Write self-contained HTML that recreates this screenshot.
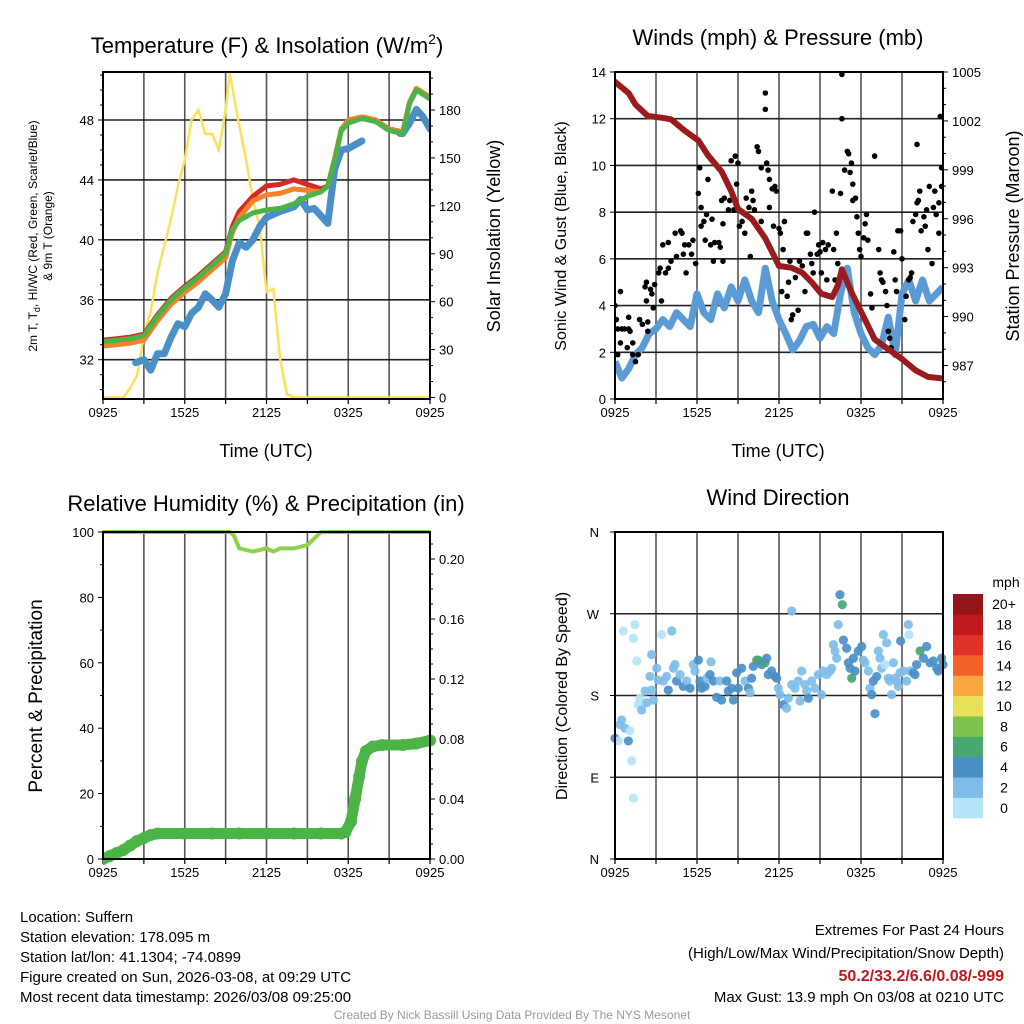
<!DOCTYPE html>
<html><head><meta charset="utf-8"><style>
body{margin:0;background:#fff;}
svg{display:block;font-family:"Liberation Sans",sans-serif;}
</style></head><body>
<svg id="c" width="1024" height="1024" viewBox="0 0 1024 1024"></svg>
<script>
// ---------- DATA ----------
const xTickLabels=["0925","1525","2125","0325","0925"];
// Panel 1: temperature (hours since 0925)
const tT=[0,1,2,3,4,5,6,7,8,9,9.5,10,11,12,13,14,15,16,16.5,17,17.5,18,19,20,21,22,22.5,23,24];
const greenT=[33.2,33.3,33.4,33.6,34.9,36.0,36.8,37.5,38.3,39.1,40.7,41.3,41.8,42.0,42.1,42.4,42.9,43.2,43.6,45.3,47.3,47.8,48.1,47.9,47.3,47.1,49.1,50.0,49.4];
const redT=[33.3,33.4,33.5,33.7,35.0,36.1,36.9,37.6,38.4,39.2,40.9,41.9,42.9,43.6,43.7,44.0,43.7,43.4,43.6,45.4,47.4,47.9,48.2,48.0,47.4,47.2,49.2,50.1,49.5];
const orangeT=[32.9,33.0,33.1,33.3,34.6,35.7,36.5,37.2,38.0,38.8,40.5,41.5,42.6,43.0,43.1,43.4,43.3,43.2,43.6,45.4,47.4,48.0,48.2,48.0,47.4,47.2,49.2,50.1,49.5];
const tB=[2.4,3,3.5,4,4.5,5,5.5,6,6.5,7,7.5,8,8.5,9,9.5,10,10.5,11,11.5,12,13,14,14.5,15,15.5,16.5,17,17.5,18,19,19.4,21.8,22,22.5,23,23.5,24];
const blueT=[31.8,32.0,31.3,32.4,32.4,33.5,34.4,34.2,35.1,35.5,36.4,36.0,35.5,36.4,38.6,39.8,39.5,40.0,40.9,41.5,41.9,42.2,42.7,42.0,42.1,41.1,44.7,46.0,46.1,46.6,null,47.1,47.1,47.8,48.7,48.2,47.4];
const tS=[0,1.5,2,2.5,3,3.5,4,4.5,5,5.5,6,6.5,7,7.5,8,8.5,9,9.3,10,10.5,11,11.5,12,12.5,13,13.5,14,24];
const solar=[0,0,6,14,39,54,78,95,112,132,149,174,180,165,165,155,180,203,170,149,124,107,66,68,24,2,0,0];
// Panel 2: winds & pressure
const tW=[0,0.5,1,1.5,2,2.5,3,3.5,4,4.5,5,5.5,6,6.5,7,7.5,8,8.5,9,9.5,10,10.5,11,11.5,12,12.5,13,13.5,14,14.5,15,15.5,16,16.5,17,17.5,18,18.5,19,19.5,20,20.5,21,21.5,22,22.5,23,23.5,24];
const sonic=[1.6,0.9,1.3,1.9,2.2,2.8,3.0,3.4,3.1,3.7,3.4,3.1,4.5,3.7,3.4,4.5,3.9,4.8,4.2,5.1,4.2,3.7,5.6,4.2,3.4,2.8,2.1,2.5,3.1,3.2,2.6,3.1,2.8,4.5,5.6,3.7,2.8,2.2,1.9,2.3,3.5,1.9,4.5,5.1,4.2,5.1,4.2,4.5,4.8];
const tP=[0,1,1.5,2.4,3.4,4.1,5.1,6.1,6.8,7.8,8.5,9,10,11,12,12.9,13.7,14.4,15.1,15.9,16.3,16.6,17.3,18.3,19,20,21,22,22.9,24];
const pressure=[1004.4,1003.7,1003.0,1002.3,1002.2,1002.1,1001.4,1000.8,999.9,998.9,997.7,996.6,996.0,994.8,993.1,993.0,992.7,992.1,991.4,991.2,991.9,992.9,991.5,989.8,988.6,988.0,987.4,986.7,986.3,986.2];
const gustT=[0,0.1,0.2,0.4,0.2,0.5,0.7,1.0,0.4,1.0,0.9,1.1,1.3,1.3,1.5,1.7,1.8,2.0,2.2,2.3,2.3,2.6,2.7,2.8,2.4,2.4,2.9,3.2,3.3,3.4,3.5,3.9,3.7,3.9,4.1,4.4,4.5,4.8,4.9,5.1,5.0,5.2,5.4,5.6,5.7,5.9,6.1,6.2,6.3,6.5,6.3,6.6,6.7,6.8,7.0,7.1,7.2,7.3,7.6,7.7,7.8,7.9,8.0,7.9,8.3,8.4,8.5,8.8,8.9,8.7,9.0,9.1,9.3,9.5,9.6,9.8,10.0,10.1,10.2,9.9,10.4,10.5,10.7,10.7,11.0,11.0,11.1,11.2,11.3,11.3,11.5,11.6,11.7,11.8,12.0,12.1,12.2,12.3,12.4,12.7,12.8,12.6,12.9,13.0,13.2,13.4,13.5,13.7,13.9,14.0,14.1,14.3,14.4,14.5,14.6,14.8,14.9,15.0,15.1,15.2,15.4,15.5,15.6,15.9,16.0,16.1,16.2,16.3,16.5,16.6,16.6,16.8,17.0,17.1,17.2,17.3,17.4,17.4,17.6,17.7,17.8,17.9,18.0,18.2,18.3,18.4,18.5,18.7,18.8,19.0,19.3,19.4,19.5,19.6,19.8,19.9,20.0,20.1,20.2,20.4,20.5,20.6,20.7,20.9,21.0,21.2,21.3,21.5,21.6,21.7,21.8,22.0,22.1,22.1,22.2,22.3,22.4,22.6,22.7,22.8,22.9,23.0,23.2,23.3,23.4,23.5,23.7,23.7,23.8,23.9,23.9];
const gustV=[4.0,3.4,3.0,2.4,1.9,3.0,3.0,3.0,4.6,3.5,2.2,2.9,2.4,1.9,1.6,1.9,3.4,3.2,4.8,5.0,4.2,4.7,4.5,3.9,2.9,3.3,4.9,5.4,5.6,4.2,6.6,6.7,5.4,5.6,5.9,7.1,6.1,7.2,7.1,6.6,6.2,5.4,6.6,6.2,6.8,5.8,8.8,9.9,8.2,7.6,7.4,6.8,7.9,9.4,6.6,7.7,5.9,6.7,6.7,6.5,8.5,7.5,8.6,5.9,8.1,8.5,10.2,10.4,9.2,8.1,10.1,7.4,7.6,7.1,8.6,8.2,8.9,8.5,8.1,6.1,10.8,10.6,9.9,7.6,12.4,13.1,10.1,9.8,8.2,9.4,9.0,7.4,9.1,8.9,7.3,7.1,4.6,6.4,7.6,5.0,5.9,4.4,3.4,3.6,5.2,3.8,5.9,5.7,4.6,7.1,7.1,6.2,5.8,5.4,8.0,6.2,6.6,6.3,5.4,6.7,6.4,5.1,6.6,8.9,6.4,5.1,7.1,5.8,8.8,12.0,13.9,9.8,10.6,10.5,9.7,10.1,9.2,8.5,8.6,7.8,7.1,6.4,6.1,6.9,7.5,7.9,6.8,4.5,3.9,10.4,6.4,5.4,5.1,5.0,4.6,4.0,2.9,2.6,2.2,6.3,5.1,4.6,7.2,7.2,6.0,3.4,4.4,5.1,5.2,5.4,7.6,7.9,10.9,8.4,8.5,8.9,7.2,7.8,7.4,8.1,6.4,9.1,5.8,8.2,8.9,7.9,7.1,8.4,12.1,9.9,9.1];
// Panel 3: RH & precip
const tRH=[0,9.3,9.6,10,11,12,12.5,13,14,15,15.5,16,24];
const rh=[100,100,99,95,94,95,94,95,95,96,98,100,100];
const tPr=[0,0.5,1,1.5,2,2.5,3,3.5,4,6,8,10,12,14,16,17.5,17.8,18.2,18.5,18.8,19,19.3,19.8,20.5,22,23,24];
const precip=[0,0.002,0.004,0.006,0.009,0.012,0.014,0.016,0.017,0.017,0.017,0.017,0.017,0.017,0.017,0.017,0.018,0.025,0.04,0.055,0.065,0.072,0.075,0.076,0.076,0.077,0.079];
// Panel 4: wind direction (deg) colored by speed bin
const dirT=[0,0.24,0.37,0.49,0.73,0.98,1.1,1.22,1.34,1.46,0.61,1.34,1.59,1.71,1.95,1.83,2.2,2.32,2.68,2.8,2.68,2.56,3.05,3.17,3.41,3.54,3.78,3.9,4.15,4.27,4.39,4.51,4.76,5.0,5.24,5.49,5.73,5.85,6.1,6.22,6.34,6.59,6.71,6.95,7.02,7.2,7.44,7.68,7.8,8.17,8.29,8.54,8.66,8.9,9.02,9.27,9.51,9.76,9.88,10.0,10.12,10.37,10.49,10.73,10.98,11.1,11.22,11.46,11.71,11.83,11.95,12.07,12.32,12.56,12.68,12.93,12.93,13.17,13.41,13.54,13.66,13.9,14.02,14.15,14.39,14.63,14.88,15.12,15.24,15.49,15.73,15.85,15.98,16.1,16.22,16.34,16.46,16.63,16.71,16.95,17.07,17.2,17.32,17.44,17.56,17.8,18.05,18.17,18.29,18.54,18.66,18.78,18.9,19.02,19.15,19.27,19.39,19.51,19.63,19.76,19.88,20.0,20.12,20.24,20.37,20.49,20.61,20.73,20.85,20.9,21.1,21.34,21.46,21.51,21.59,21.83,21.95,22.07,22.32,22.56,22.8,23.05,23.29,23.54,23.66,23.9,24.0];
const dirDeg=[133,130,148,153,144,130,141,108,67,258,251,243,218,170,164,177,185,172,186,175,225,201,210,197,247,196,201,186,251,210,214,196,203,190,196,188,214,207,219,196,188,190,199,203,217,196,178,196,175,196,185,188,175,205,188,210,196,188,183,199,212,219,219,214,216,221,203,207,201,199,188,181,170,166,177,273,192,188,196,174,207,192,185,177,196,188,203,181,207,203,207,210,236,229,221,258,291,280,241,232,216,210,199,221,207,229,234,219,216,207,188,181,196,160,201,229,221,210,247,214,238,199,196,181,216,199,196,190,205,240,207,196,258,247,207,205,203,214,229,221,234,216,218,210,207,221,214];
const dirBin=[2,0,1,1,1,2,0,0,0,0,0,0,0,0,1,0,1,1,1,1,1,1,1,1,0,1,1,2,1,1,1,2,1,2,1,2,1,1,2,2,2,2,1,2,1,2,2,1,2,2,2,2,2,2,2,2,1,2,1,2,2,3,3,2,3,2,2,2,2,2,1,1,2,1,1,1,1,1,1,1,1,1,1,2,1,1,1,1,1,1,1,1,1,1,1,1,2,3,2,2,2,2,3,2,2,2,2,1,1,1,1,2,2,2,2,1,1,1,1,0,1,1,1,1,1,1,1,1,1,2,1,1,1,0,1,2,2,2,3,2,2,2,2,2,2,2,2,2,2];
const binColors=["#b5e3f7","#7fbde8","#4a8fc6","#48a870","#7ec24d","#e6e157","#f9a743","#f26329","#e0322a","#c1191f","#941519"];
const binLabels=["0","2","4","6","8","10","12","14","16","18","20+"];
const tempTicks=[32,36,40,44,48];
const solarTicks=[0,30,60,90,120,150,180];
const windTicks=[0,2,4,6,8,10,12,14];
const presTicks=[987,990,993,996,999,1002,1005];
const rhTicks=[0,20,40,60,80,100];
const prTicks=[0,0.04,0.08,0.12,0.16,0.20];
const dirTicks=[0,90,180,270,360];
const dirLabels=["N","E","S","W","N"];

// ---------- HELPERS ----------
const NS="http://www.w3.org/2000/svg";
const svg=document.getElementById('c');
function mk(tag,attrs,parent){const e=document.createElementNS(NS,tag);for(const k in attrs)e.setAttribute(k,attrs[k]);(parent||svg).appendChild(e);return e;}
function txt(s,x,y,size,anchor,parent,extra){const e=mk('text',Object.assign({x:x,y:y,'font-size':size,'text-anchor':anchor||'middle',fill:'#000'},extra||{}),parent);e.textContent=s;return e;}
function lin(d0,d1,p0,p1){return v=>p0+(v-d0)*(p1-p0)/(d1-d0);}
function pathOf(ts,vs,X,Y){let d='',pen=false;for(let i=0;i<ts.length;i++){if(vs[i]===null){pen=false;continue;}d+=(pen?'L':'M')+X(ts[i]).toFixed(1)+','+Y(vs[i]).toFixed(1);pen=true;}return d;}

function panelFrame(g,L,T,R,B,X){
  for(let h=3;h<24;h+=3){const l=mk('line',{x1:X(h),x2:X(h),y1:T,y2:B,stroke:'#555','stroke-width':1.6},g);
    
    }
  for(let h=0;h<=24;h+=3){mk('line',{x1:X(h),x2:X(h),y1:B,y2:B+5,stroke:'#000','stroke-width':1.2},g);}
  xTickLabels.forEach((s,i)=>{const t=txt(s,X(i*6),B+18,13,'middle',g);
    
    });
}
function frameRect(g,L,T,R,B){const r=mk('rect',{x:L,y:T,width:R-L,height:B-T,fill:'none',stroke:'#000','stroke-width':2},g);
  
  }
function hGrid(g,L,R,ys){ys.forEach(y=>{const l=mk('line',{x1:L,x2:R,y1:y,y2:y,stroke:'#222','stroke-width':1.6},g);
  
  });}

// ---------- PANEL 1 ----------
(function(){
  const L=103,R=430,T=72,B=399;
  const g=mk('g',{});
  
  
  const X=lin(0,24,L,R),Y=lin(32,48,359.7,120),YS=lin(0,180,397.5,110);
  panelFrame(g,L,T,R,B,X);
  hGrid(g,L,R,tempTicks.map(Y));
  tempTicks.forEach(v=>{mk('line',{x1:L-5,x2:L,y1:Y(v),y2:Y(v),stroke:'#000'},g);const t=txt(String(v),L-9,Y(v)+5,13,'end',g);
    
    });
  for(let v=30;v<=51;v++){if(v%4)mk('line',{x1:L-3,x2:L,y1:Y(v),y2:Y(v),stroke:'#000'},g);}
  solarTicks.forEach(v=>{mk('line',{x1:R,x2:R+5,y1:YS(v),y2:YS(v),stroke:'#000'},g);const t=txt(String(v),R+9,YS(v)+5,13,'start',g);
    
    });
  for(let v=10;v<=200;v+=10){if(v%30)mk('line',{x1:R,x2:R+3,y1:YS(v),y2:YS(v),stroke:'#000'},g);}
  const cp=mk('clipPath',{id:'cp1'},g);mk('rect',{x:L,y:T,width:R-L,height:B-T},cp);
  const d=mk('g',{'clip-path':'url(#cp1)'},g);
  const s=mk('path',{d:pathOf(tS,solar,X,YS),fill:'none',stroke:'#fde05a','stroke-width':2.5},d);
  
  
  const b=mk('path',{d:pathOf(tB,blueT,X,Y),fill:'none',stroke:'#4a8fc6','stroke-width':7,'stroke-linecap':'round','stroke-linejoin':'round'},d);
  
  
  const r=mk('path',{d:pathOf(tT,redT,X,Y),fill:'none',stroke:'#d42a26','stroke-width':5,'stroke-linejoin':'round'},d);
  
  
  const o=mk('path',{d:pathOf(tT,orangeT,X,Y),fill:'none',stroke:'#f7802b','stroke-width':5,'stroke-linejoin':'round'},d);
  
  
  const gr=mk('path',{d:pathOf(tT,greenT,X,Y),fill:'none',stroke:'#4cb447','stroke-width':5,'stroke-linejoin':'round'},d);
  
  
  frameRect(g,L,T,R,B);
  const ti=txt('',267,53,22,'middle',g);ti.innerHTML='Temperature (F) &amp; Insolation (W/m<tspan dy="-9" font-size="14">2</tspan><tspan dy="9">)</tspan>';
  
  
  const xt=txt('Time (UTC)',266,457,18,'middle',g);
  
  
  const yl=mk('text',{transform:'translate(37,236) rotate(-90)','font-size':12,'text-anchor':'middle'},g);
  yl.innerHTML='2m T, T<tspan dy="3" font-size="9">d</tspan><tspan dy="-3">, HI/WC (Red, Green, Scarlet/Blue)</tspan>';
  
  
  const yl2=txt('& 9m T (Orange)',0,0,12,'middle',g,{transform:'translate(52,236) rotate(-90)'});
  
  
  const yr=txt('Solar Insolation (Yellow)',0,0,18,'middle',g,{transform:'translate(500,236) rotate(-90)'});
  
  
})();

// ---------- PANEL 2 ----------
(function(){
  const L=615,R=943,T=72,B=399;
  const g=mk('g',{});
  
  
  const X=lin(0,24,L,R),Y=lin(0,14,399,72),YP=lin(987,1005,365.5,72);
  panelFrame(g,L,T,R,B,X);
  hGrid(g,L,R,windTicks.slice(1,7).map(Y));
  windTicks.forEach(v=>{mk('line',{x1:L-5,x2:L,y1:Y(v),y2:Y(v),stroke:'#000'},g);const t=txt(String(v),L-9,Y(v)+5,13,'end',g);
    
    });
  presTicks.forEach(v=>{mk('line',{x1:R,x2:R+5,y1:YP(v),y2:YP(v),stroke:'#000'},g);const t=txt(String(v),R+9,YP(v)+5,13,'start',g);
    
    });
  for(let v=986;v<=1005;v++){if((v-987)%3)mk('line',{x1:R,x2:R+3,y1:YP(v),y2:YP(v),stroke:'#000'},g);}
  const cp=mk('clipPath',{id:'cp2'},g);mk('rect',{x:L,y:T,width:R-L,height:B-T},cp);
  const d=mk('g',{'clip-path':'url(#cp2)'},g);
  const s=mk('path',{d:pathOf(tW,sonic,X,Y),fill:'none',stroke:'#5b9bd5','stroke-width':7,'stroke-linejoin':'round'},d);
  
  
  gustT.forEach((t,i)=>{const c=mk('circle',{cx:X(t),cy:Y(gustV[i]),r:2.8,fill:'#000'},d);
    
    });
  const p=mk('path',{d:pathOf(tP,pressure,X,YP),fill:'none',stroke:'#9a1b1e','stroke-width':6,'stroke-linejoin':'round','stroke-linecap':'round'},d);
  
  
  frameRect(g,L,T,R,B);
  const ti=txt('Winds (mph) & Pressure (mb)',778,45,22,'middle',g);
  
  
  const xt=txt('Time (UTC)',778,457,18,'middle',g);
  
  
  const yl=txt('Sonic Wind & Gust (Blue, Black)',0,0,16,'middle',g,{transform:'translate(566,236) rotate(-90)'});
  
  
  const yr=txt('Station Pressure (Maroon)',0,0,18,'middle',g,{transform:'translate(1019,236) rotate(-90)'});
  
  
})();

// ---------- PANEL 3 ----------
(function(){
  const L=103,R=430,T=532,B=859;
  const g=mk('g',{});
  
  
  const X=lin(0,24,L,R),Y=lin(0,100,859,532),YP=lin(0,0.04,859,799);
  panelFrame(g,L,T,R,B,X);
  rhTicks.forEach(v=>{mk('line',{x1:L-5,x2:L,y1:Y(v),y2:Y(v),stroke:'#000'},g);const t=txt(String(v),L-9,Y(v)+5,13,'end',g);
    
    });
  prTicks.forEach(v=>{mk('line',{x1:R,x2:R+5,y1:YP(v),y2:YP(v),stroke:'#000'},g);const t=txt(v.toFixed(2),R+9,YP(v)+5,13,'start',g);
    
    });
  for(let v=0.01;v<0.215;v+=0.01){if(Math.round(v*100)%4)mk('line',{x1:R,x2:R+3,y1:YP(v),y2:YP(v),stroke:'#000'},g);}
  for(let v=10;v<100;v+=20)mk('line',{x1:L-3,x2:L,y1:Y(v),y2:Y(v),stroke:'#000'},g);
  const cp=mk('clipPath',{id:'cp3'},g);mk('rect',{x:L,y:T-6,width:R-L+6,height:B-T+12},cp);
  const d=mk('g',{'clip-path':'url(#cp3)'},g);
  const rl=mk('path',{d:pathOf(tRH,rh,X,Y),fill:'none',stroke:'#8fd14f','stroke-width':4},d);
  
  
  const pl=mk('path',{d:pathOf(tPr,precip,X,YP),fill:'none',stroke:'#4cb447','stroke-width':11,'stroke-linejoin':'round','stroke-linecap':'round'},d);
  
  
  tPr.forEach((t,i)=>{const c=mk('circle',{cx:X(t),cy:YP(precip[i]),r:6,fill:'#4cb447'},d);
    
    });
  frameRect(g,L,T,R,B);
  const ti=txt('Relative Humidity (%) & Precipitation (in)',266,511,22,'middle',g);
  
  
  const yl=txt('Percent & Precipitation',0,0,19,'middle',g,{transform:'translate(42,696) rotate(-90)'});
  
  
})();

// ---------- PANEL 4 ----------
(function(){
  const L=615,R=943,T=532,B=859;
  const g=mk('g',{});
  
  
  const X=lin(0,24,L,R),Y=lin(0,360,859,532);
  panelFrame(g,L,T,R,B,X);
  hGrid(g,L,R,[90,180,270].map(Y));
  dirTicks.forEach((v,i)=>{mk('line',{x1:L-5,x2:L,y1:Y(v),y2:Y(v),stroke:'#000'},g);const t=txt(dirLabels[i],L-16,Y(v)+5,13,'end',g);
    
    });
  const cp=mk('clipPath',{id:'cp4'},g);mk('rect',{x:L-5,y:T,width:R-L+10,height:B-T},cp);
  const d=mk('g',{'clip-path':'url(#cp4)'},g);
  dirT.forEach((t,i)=>{const c=mk('circle',{cx:X(t),cy:Y(dirDeg[i]),r:4.6,fill:binColors[dirBin[i]],'fill-opacity':0.92},d);
    
    });
  frameRect(g,L,T,R,B);
  const ti=txt('Wind Direction',778,505,22,'middle',g);
  
  
  const yl=txt('Direction (Colored By Speed)',0,0,16,'middle',g,{transform:'translate(567,696) rotate(-90)'});
  
  
  const cb=mk('g',{},g);
  
  
  const h=(818-594)/11;
  binColors.forEach((col,i)=>{const y=818-(i+1)*h;const r=mk('rect',{x:953,y:y,width:30,height:h+0.3,fill:col},cb);
    
    
    const t=txt(binLabels[i],1004,y+h/2+5,14,'middle',cb);
    
    });
  const m=txt('mph',1006,587,14,'middle',cb);
  
  
})();

// ---------- FOOTER TEXT ----------
const infoLines=["Location: Suffern","Station elevation: 178.095 m","Station lat/lon: 41.1304; -74.0899","Figure created on Sun, 2026-03-08, at 09:29 UTC","Most recent data timestamp: 2026/03/08 09:25:00"];
infoLines.forEach((s,i)=>{const t=txt(s,20,922+i*20,15,'start');
  
  });
const e1=txt('Extremes For Past 24 Hours',1004,935,15,'end');


const e2=txt('(High/Low/Max Wind/Precipitation/Snow Depth)',1004,958,15,'end');


const e3=txt('50.2/33.2/6.6/0.08/-999',1004,981,16,'end',null,{fill:'#c1191f','font-weight':'bold'});


const e4=txt('Max Gust: 13.9 mph On 03/08 at 0210 UTC',1004,1002,15,'end');


const cr=txt('Created By Nick Bassill Using Data Provided By The NYS Mesonet',512,1019,12,'middle',null,{fill:'#999'});


</script>
</body></html>
